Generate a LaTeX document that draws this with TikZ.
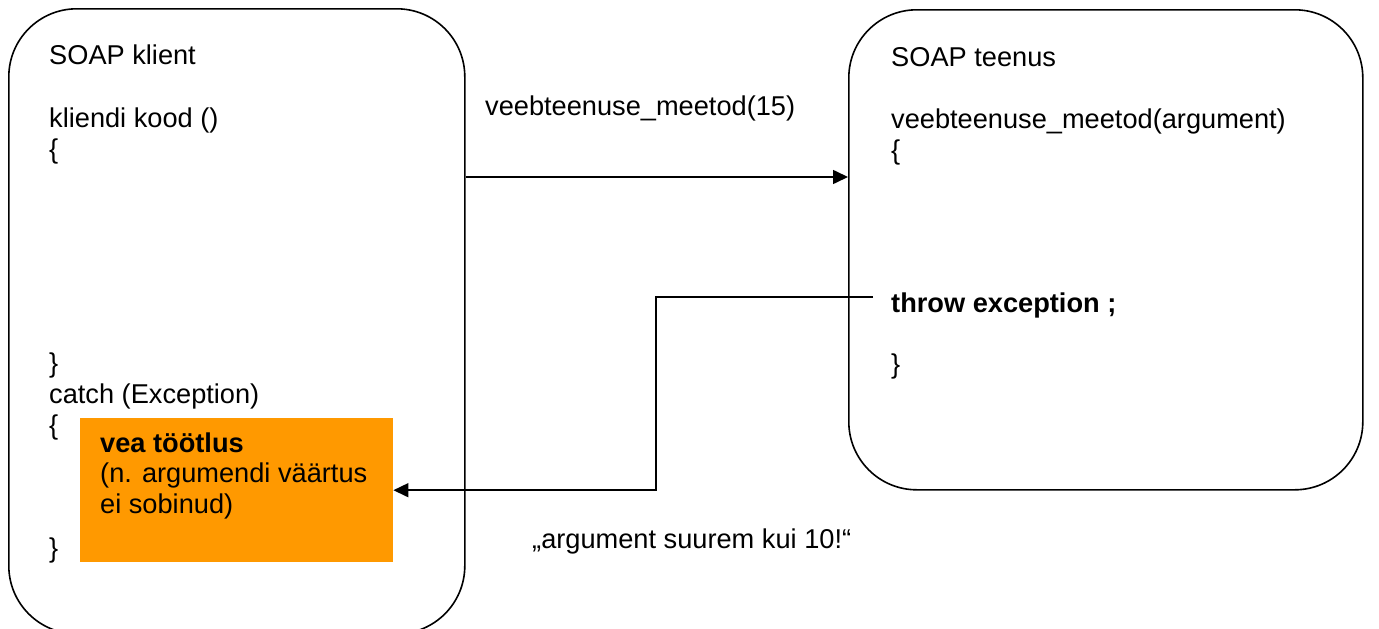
\documentclass[tikz,border=0pt]{standalone}
\usepackage{fontspec}
\setmainfont{Liberation Sans}
\usetikzlibrary{arrows.meta}
\definecolor{handlerorange}{RGB}{255,153,0}
\tikzstyle{sidebox} = [draw=black, line width=1.6pt, rectangle,
    rounded corners=68pt, inner sep=0pt, anchor=north west]
\tikzstyle{handlerbox} = [fill=handlerorange, rectangle, inner sep=0pt, anchor=north west]
\tikzstyle{codeline} = [anchor=base west, inner sep=0pt, font=\fontsize{27.2pt}{31.5pt}\selectfont]
\tikzstyle{msgarrow} = [line width=1.6pt, -{Triangle[length=15pt,width=14pt]}]

\begin{document}
\begin{tikzpicture}[x=1pt,y=-1pt]
                \clip (0,0) rectangle (1379,629);
                \node [sidebox, minimum width=456pt, minimum height=625pt] (client) at (8,8) {};
                \node [sidebox, minimum width=514pt, minimum height=480pt] (service) at (848,9) {};
                \node [handlerbox, minimum width=313pt, minimum height=144pt] (handler) at (80,418) {};

                \node [codeline] (clienttitle) at (49,64) {SOAP klient};
                \node [codeline] (clientfunc) at (49,127) {kliendi kood ()};
                \node [codeline] (clientopen) at (49,158) {\{};
                \node [codeline] (clientclose) at (49,372) {\}};
                \node [codeline] (catchline) at (49,403) {catch (Exception)};
                \node [codeline] (catchopen) at (49,434) {\{};
                \node [codeline] (catchclose) at (49,557) {\}};

                \node [codeline, font=\fontsize{27.2pt}{31.5pt}\selectfont\bfseries] (handlertitle) at (100,452) {vea töötlus};
                \node [codeline] (handlerline1) at (100,482) {(n. argumendi väärtus};
                \node [codeline] (handlerline2) at (100,513) {ei sobinud)};

                \node [codeline] (servicetitle) at (891,66) {SOAP teenus};
                \node [codeline] (servicefunc) at (891,128) {veebteenuse\_meetod(argument)};
                \node [codeline] (serviceopen) at (891,159) {\{};
                \node [codeline, font=\fontsize{27.2pt}{31.5pt}\selectfont\bfseries] (throw) at (891,312) {throw exception ;};
                \node [codeline] (serviceclose) at (891,373) {\}};

                \node [codeline] (calllabel) at (485,115) {veebteenuse\_meetod(15)};
                \node [codeline] (errorlabel) at (532,548) {„argument suurem kui 10!“};

                \coordinate (callrow) at (0,177);
                \coordinate (throwout) at (873,297);
                \draw [msgarrow] (client.east |- callrow) -- (service.west |- callrow);
                \draw [msgarrow] (throwout) -- (656,297) |- (handler.east);
            \end{tikzpicture}
\end{document}
